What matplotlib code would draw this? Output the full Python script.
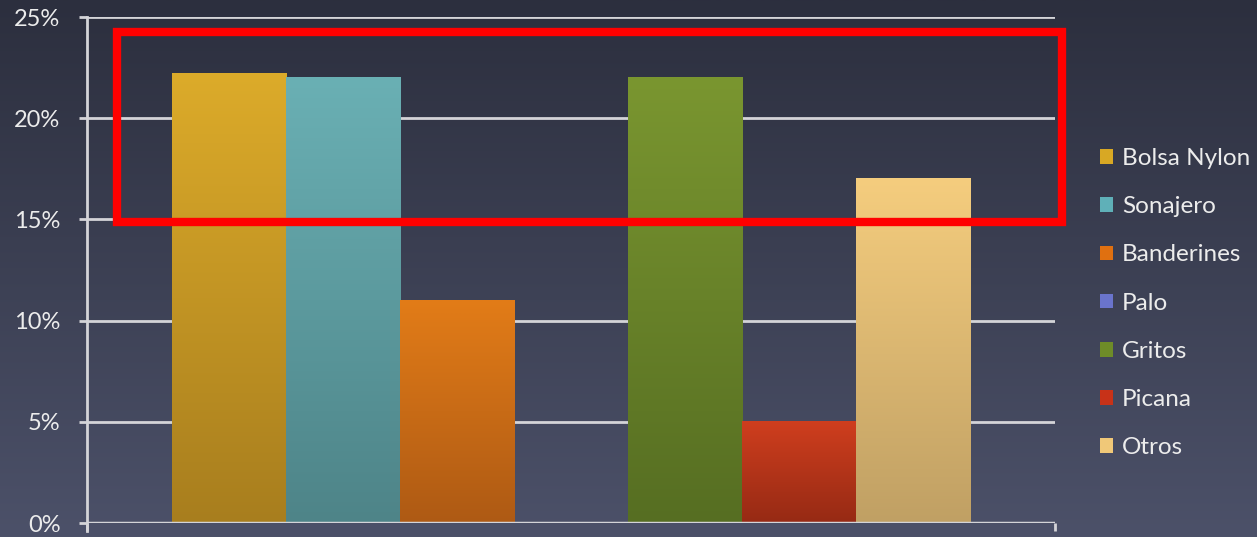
import numpy as np
import matplotlib
matplotlib.use("Agg")
import matplotlib.pyplot as plt
from matplotlib.patches import Rectangle, Patch
from matplotlib.colors import LinearSegmentedColormap

categories = ["Bolsa Nylon", "Sonajero", "Banderines", "Palo", "Gritos", "Picana", "Otros"]
values = [22.2, 22.0, 11.0, 0.0, 22.0, 5.0, 17.0]
yticks = [0, 5, 10, 15, 20, 25]
ytick_labels = ["0%", "5%", "10%", "15%", "20%", "25%"]

top_colors = ["#dcab2a", "#6ab0b4", "#e27c18", "#6a74c8", "#7a9630", "#cf3e1e", "#f5cd7e"]
bot_colors = ["#a87e1e", "#4e8488", "#ae5a14", "#4e58a0", "#566e22", "#962a14", "#c0a064"]
legend_colors = ["#d8a824", "#5fb0b8", "#e07010", "#6a74cc", "#6e8c28", "#c83218", "#f0c878"]

plt.rcParams['font.family'] = ['Lato', 'DejaVu Sans']
W, H = 1257, 537
fig = plt.figure(figsize=(W / 100, H / 100), dpi=100)

# background gradient
bg = fig.add_axes([0, 0, 1, 1], zorder=-10)
bg.axis("off")
bgcmap = LinearSegmentedColormap.from_list("bg", ["#2c2f3e", "#4c5169"])
grad = np.linspace(0, 1, 256).reshape(-1, 1)
bg.imshow(grad, aspect="auto", cmap=bgcmap, extent=[0, 1, 0, 1], origin="upper")
bg.set_xlim(0, 1)
bg.set_ylim(0, 1)

ax = fig.add_axes([87 / W, 14 / H, 968 / W, 506 / H])
ax.patch.set_alpha(0)

n = len(categories)
group_w = 0.825
bw = group_w / n
xs = -group_w / 2 + bw / 2 + np.arange(n) * bw
bars = ax.bar(xs, values, width=bw, color="none", zorder=3)
for b, c0, c1 in zip(bars, top_colors, bot_colors):
    x0, y0 = b.get_x(), b.get_y()
    w, h = b.get_width(), b.get_height()
    if h <= 0:
        continue
    cm = LinearSegmentedColormap.from_list("g", [c0, c1])
    ax.imshow(grad, aspect="auto", cmap=cm, extent=[x0, x0 + w, y0, y0 + h],
              origin="upper", zorder=3)

ax.set_xlim(-0.5, 0.5)
ax.set_ylim(0, 25)
ax.set_yticks(yticks)
ax.set_yticklabels(ytick_labels)
ax.set_xticks([-0.5, 0.5])
ax.set_xticklabels(["", ""])
gridc = "#d4d4d8"
ax.yaxis.grid(True, color=gridc, linewidth=2, zorder=1)
ax.set_axisbelow(True)
for s in ["top", "right", "bottom"]:
    ax.spines[s].set_visible(False)
ax.spines["left"].set_color(gridc)
ax.spines["left"].set_linewidth(2)
ax.spines["left"].set_bounds(-0.4, 25)
ax.tick_params(axis="y", colors=gridc, length=6, width=2, labelcolor="#ececec",
               labelsize=17, pad=13)
ax.tick_params(axis="x", colors=gridc, length=6, width=2)
ax.axhline(0, color=gridc, linewidth=2.5, zorder=4)

# legend
handles = [Patch(facecolor=c, edgecolor="none") for c in legend_colors]
leg = fig.legend(handles, categories, loc="upper left",
                 bbox_to_anchor=(1100 / W, 1 - 148 / H),
                 frameon=False, fontsize=17.5, labelcolor="#ececec",
                 handlelength=0.55, handleheight=0.55, handletextpad=0.35,
                 labelspacing=1.12, borderpad=0, borderaxespad=0)

# red highlight rectangle
rect = Rectangle((117 / W, 1 - 222 / H), (1062 - 117) / W, (222 - 32) / H,
                 transform=fig.transFigure, fill=False, edgecolor="#ff0000",
                 linewidth=6, zorder=10)
fig.patches.append(rect)

fig.savefig("out.png", dpi=100)
